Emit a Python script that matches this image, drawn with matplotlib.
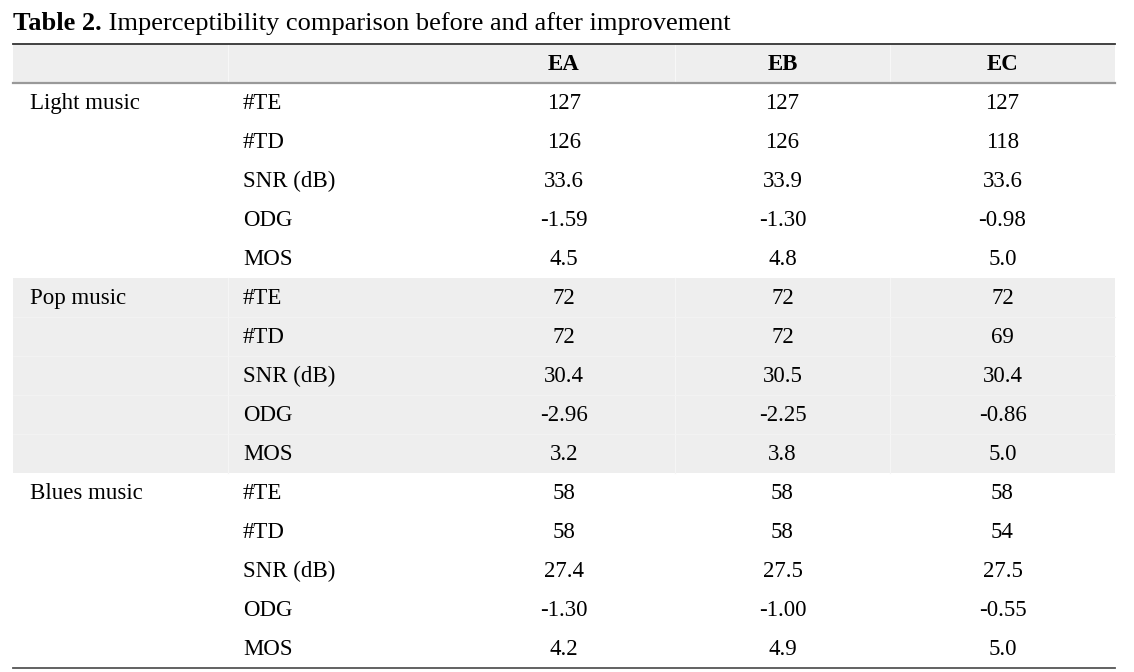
import matplotlib
matplotlib.use("Agg")
import matplotlib.pyplot as plt

title_bold = "Table 2."
title_rest = " Imperceptibility comparison before and after improvement"
columns = ["EA", "EB", "EC"]
groups = ["Light music", "Pop music", "Blues music"]
metrics = ["#TE", "#TD", "SNR (dB)", "ODG", "MOS"]
ea = [["127", "126", "33.6", "-1.59", "4.5"],
      ["72", "72", "30.4", "-2.96", "3.2"],
      ["58", "58", "27.4", "-1.30", "4.2"]]
eb = [["127", "126", "33.9", "-1.30", "4.8"],
      ["72", "72", "30.5", "-2.25", "3.8"],
      ["58", "58", "27.5", "-1.00", "4.9"]]
ec = [["127", "118", "33.6", "-0.98", "5.0"],
      ["72", "69", "30.4", "-0.86", "5.0"],
      ["58", "54", "27.5", "-0.55", "5.0"]]

W, H = 1134, 672
fig = plt.figure(figsize=(W / 100, H / 100), dpi=100)
ax = fig.add_axes([0, 0, 1, 1])
ax.set_xlim(0, W)
ax.set_ylim(H, 0)
ax.axis("off")

font = "Liberation Serif"
fs = 16.5
title_fs = 19
left, right = 13, 1115
col_edges = [13, 228, 453, 675, 890, 1115]
sep_x = [228, 675, 890]  # faint white separators inside gray bands
top, head_bot, bottom = 44, 82.5, 668
row_h = (bottom - head_bot) / 15
gray = "#eeeeee"

# title
t = ax.text(left, 30, title_bold, family=font, fontsize=title_fs,
            fontweight="bold", va="baseline", ha="left")
fig.canvas.draw()
bb = t.get_window_extent()
x_end = ax.transData.inverted().transform((bb.x1, 0))[0]
ax.text(x_end, 30, title_rest, family=font, fontsize=title_fs,
        va="baseline", ha="left")

# header band
ax.fill_between([left, right], top, head_bot, color=gray, lw=0)
for x in sep_x:
    ax.plot([x, x], [top, head_bot], color="#f7f7f7", lw=0.8)
for i, c in enumerate(columns):
    cx = (col_edges[i + 2] + col_edges[i + 3]) / 2
    ax.text(cx, (top + head_bot) / 2 + 1, c, family=font, fontsize=fs,
            fontweight="bold", ha="center", va="center")

# body
for g, name in enumerate(groups):
    y0 = head_bot + g * 5 * row_h
    if g == 1:
        ax.fill_between([left, right], y0, y0 + 5 * row_h, color=gray, lw=0)
        for x in sep_x:
            ax.plot([x, x], [y0, y0 + 5 * row_h], color="#f5f5f5", lw=0.8)
        for r in range(1, 5):
            ax.plot([left, right], [y0 + r * row_h] * 2, color="#f3f3f3", lw=0.6)
    ax.text(30, y0 + row_h / 2 + 1, name, family=font, fontsize=fs,
            ha="left", va="center")
    for r, m in enumerate(metrics):
        yc = y0 + r * row_h + row_h / 2 + 1
        ax.text(243, yc, m, family=font, fontsize=fs, ha="left", va="center")
        for i, vals in enumerate([ea, eb, ec]):
            cx = (col_edges[i + 2] + col_edges[i + 3]) / 2
            ax.text(cx, yc, vals[g][r], family=font, fontsize=fs,
                    ha="center", va="center")

# rules
ax.plot([left, right], [top, top], color="#333333", lw=1.3)
ax.plot([left, right], [head_bot, head_bot], color="#999999", lw=1.6)
ax.plot([left, right], [bottom, bottom], color="#555555", lw=1.3)

fig.savefig("out.png", dpi=100)
